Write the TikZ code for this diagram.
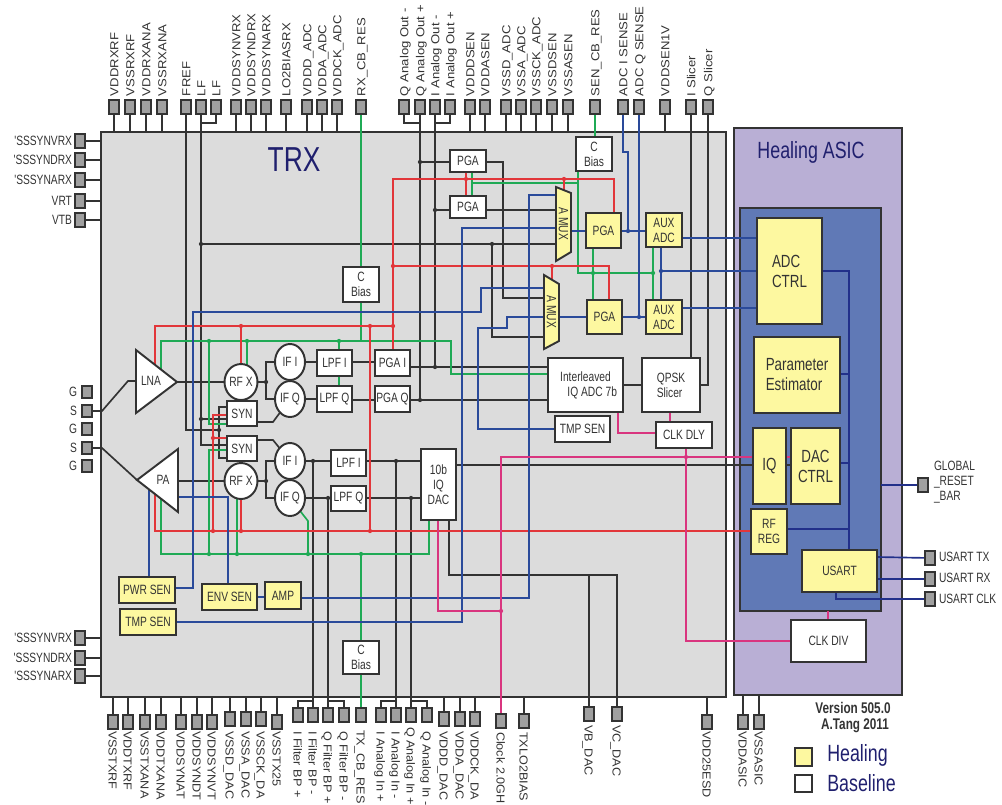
\documentclass[tikz,border=0pt]{standalone}
\usepackage{fontspec}
\usetikzlibrary{shapes.geometric}
\newfontfamily\hf[FakeStretch=0.76]{Liberation Sans}
\newfontfamily\vf[FakeStretch=1.13]{Liberation Sans}
\newfontfamily\vfb[FakeStretch=1.09]{Liberation Sans}
\definecolor{ink}{HTML}{333333}
\definecolor{wred}{HTML}{E2363A}
\definecolor{wgreen}{HTML}{1FAA55}
\definecolor{wblue}{HTML}{2A4A9A}
\definecolor{wnavy}{HTML}{22308A}
\definecolor{wpink}{HTML}{D9357F}
\definecolor{hyellow}{HTML}{FDF8A0}
\definecolor{trxgray}{HTML}{DCDCDC}
\definecolor{pingray}{HTML}{A0A0A0}
\definecolor{asicbg}{HTML}{B9AFD5}
\definecolor{corebg}{HTML}{6079B6}
\definecolor{titleblue}{HTML}{20206E}
\pgfdeclarelayer{back}
\pgfdeclarelayer{wires}
\pgfsetlayers{back,wires,main}
\tikzset{
  txt/.style={font=\hf\fontsize{10.1pt}{11.3pt}\selectfont,text=ink},
  bigtxt/.style={font=\hf\fontsize{13.2pt}{15pt}\selectfont,text=ink},
  box/.style={draw=ink,line width=1.45pt,fill=white,inner sep=0pt,outer sep=0pt,align=center,txt},
  heal/.style={box,fill=hyellow},
  rnd/.style={draw=ink,line width=1.45pt,fill=white,ellipse,inner sep=0pt,outer sep=0pt,minimum width=22.5pt,minimum height=27pt,txt},
  pin/.style={draw=ink,line width=1.45pt,fill=pingray,inner sep=0pt,outer sep=0pt,minimum width=7.5pt,minimum height=10.5pt},
  vlab/.style={font=\vf\fontsize{8.7pt}{10pt}\selectfont,text=ink,inner sep=0pt,outer sep=0pt,text height=6.4pt,text depth=0pt,anchor=west},
  vlabb/.style={font=\vfb\fontsize{8.7pt}{10pt}\selectfont,text=ink,inner sep=0pt,outer sep=0pt,text height=6.4pt,text depth=0pt,anchor=west},
  hlab/.style={txt,inner sep=0pt,outer sep=0pt},
  jd/.style={circle,inner sep=0pt,outer sep=0pt,minimum size=3.2pt},
  wk/.style={draw=ink,line width=1.25pt},
  wr/.style={draw=wred,line width=1.25pt},
  wg/.style={draw=wgreen,line width=1.25pt},
  wb/.style={draw=wblue,line width=1.25pt},
  wn/.style={draw=wnavy,line width=1.25pt},
  wp/.style={draw=wpink,line width=1.25pt},
}
% [style]{name}{x1}{y1}{x2}{y2}{text}
\newcommand{\bx}[7][box]{\node[#1,minimum width={(#5-#3)*0.75pt},minimum height={(#6-#4)*0.75pt}] (#2) at ({(#3+#5)/2},{(#4+#6)/2}) {#7};}
\newcommand{\dotk}[3]{\node[jd,fill=ink] (#1) at (#2,#3) {};}
\newcommand{\dotr}[3]{\node[jd,fill=wred] (#1) at (#2,#3) {};}
\newcommand{\dotg}[3]{\node[jd,fill=wgreen] (#1) at (#2,#3) {};}
\newcommand{\dotb}[3]{\node[jd,fill=wblue] (#1) at (#2,#3) {};}
\newcommand{\dotp}[3]{\node[jd,fill=wpink] (#1) at (#2,#3) {};}
\newcommand{\pinT}[3]{\node[pin] (#1) at (#2,107) {}; \node[vlab,rotate=90] (#1t) at (#2,96) {#3};}
\newcommand{\pinTs}[3]{\pinT{#1}{#2}{#3}\begin{pgfonlayer}{wires}\draw[wk] (#1) -- (#1|-trx.north);\end{pgfonlayer}}
\newcommand{\pinB}[5]{\node[pin] (#1) at (#2,#3) {}; \node[vlabb,rotate=-90] (#1t) at (#2,#4) {#5};}
\newcommand{\pinBs}[5]{\pinB{#1}{#2}{#3}{#4}{#5}\begin{pgfonlayer}{wires}\draw[wk] (#1) -- (#1|-trx.south);\end{pgfonlayer}}
\newcommand{\pinL}[3]{\node[pin] (#1) at (80,#2) {}; \node[hlab,anchor=east] (#1t) at (72,#2) {#3};\begin{pgfonlayer}{wires}\draw[wk] (#1) -- (#1-|trx.west);\end{pgfonlayer}}
\begin{document}
\begin{tikzpicture}[x=0.75pt,y=-0.75pt]
\useasboundingbox (0,0) rectangle (1002,804);
% panels
\begin{pgfonlayer}{back}
\bx[box,fill=trxgray]{trx}{101}{132}{726}{697}{}
\bx[box,fill=asicbg]{asic}{734}{128}{902}{695}{}
\bx[box,fill=corebg]{core}{740}{208}{881}{611}{}
\end{pgfonlayer}
\node[font=\hf\fontsize{26pt}{28pt}\selectfont,text=titleblue,inner sep=0pt] (trxtitle) at (294,160) {TRX};
\node[font=\hf\fontsize{17.6pt}{20pt}\selectfont,text=titleblue,inner sep=0pt] (asictitle) at (811,152) {Healing ASIC};
% top pins
\pinTs{pVDDRXRF}{114}{VDDRXRF}
\pinTs{pVSSRXRF}{130}{VSSRXRF}
\pinTs{pVDDRXANA}{146}{VDDRXANA}
\pinTs{pVSSRXANA}{162}{VSSRXANA}
\pinT{pFREF}{186}{FREF}
\pinT{pLFa}{201}{LF}
\pinT{pLFb}{216}{LF}
\pinTs{pVDDSYNVRX}{236}{VDDSYNVRX}
\pinTs{pVDDSYNDRX}{251}{VDDSYNDRX}
\pinTs{pVDDSYNARX}{266}{VDDSYNARX}
\pinTs{pLOBIASRX}{286}{LO2BIASRX}
\pinTs{pVDDDADC}{307}{VDDD\_ADC}
\pinTs{pVDDAADC}{322}{VDDA\_ADC}
\pinTs{pVDDCKADC}{337}{VDDCK\_ADC}
\pinT{pRXCB}{361}{RX\_CB\_RES}
\pinT{pQOm}{404}{Q Analog Out -}
\pinT{pQOp}{420}{Q Analog Out +}
\pinT{pIOm}{435}{I Analog Out -}
\pinT{pIOp}{450}{I Analog Out +}
\pinTs{pVDDDSEN}{470}{VDDDSEN}
\pinTs{pVDDASEN}{485}{VDDASEN}
\pinTs{pVSSDADC}{506}{VSSD\_ADC}
\pinTs{pVSSAADC}{521}{VSSA\_ADC}
\pinTs{pVSSCKADC}{536}{VSSCK\_ADC}
\pinTs{pVSSDSEN}{552}{VSSDSEN}
\pinTs{pVSSASEN}{568}{VSSASEN}
\pinT{pSENCB}{595}{SEN\_CB\_RES}
\pinT{pADCI}{623}{ADC I SENSE}
\pinT{pADCQ}{639}{ADC Q SENSE}
\pinTs{pVDDSENV}{665}{VDDSEN1V}
\pinT{pISL}{691}{I Slicer}
\pinT{pQSL}{708}{Q Slicer}
% left pins
\pinL{pLa}{141}{'SSSYNVRX}
\pinL{pLb}{160}{'SSSYNDRX}
\pinL{pLc}{180}{'SSSYNARX}
\pinL{pLd}{201}{VRT}
\pinL{pLe}{220}{VTB}
\pinL{pLf}{638}{'SSSYNVRX}
\pinL{pLg}{658}{'SSSYNDRX}
\pinL{pLh}{676}{'SSSYNARX}
\node[pin,minimum width=8pt,minimum height=9pt] (pGa) at (87,392) {}; \node[hlab,anchor=east] (pGat) at (77,392) {G};
\node[pin,minimum width=8pt,minimum height=9pt] (pSa) at (87,411) {}; \node[hlab,anchor=east] (pSat) at (77,411) {S};
\node[pin,minimum width=8pt,minimum height=9pt] (pGb) at (87,429) {}; \node[hlab,anchor=east] (pGbt) at (77,429) {G};
\node[pin,minimum width=8pt,minimum height=9pt] (pSb) at (87,448) {}; \node[hlab,anchor=east] (pSbt) at (77,448) {S};
\node[pin,minimum width=8pt,minimum height=9pt] (pGc) at (87,466) {}; \node[hlab,anchor=east] (pGct) at (77,466) {G};
% bottom pins
\pinBs{pVSSTXRF}{113}{722}{731}{VSSTXRF}
\pinBs{pVDDTXRF}{128}{722}{731}{VDDTXRF}
\pinBs{pVSSTXANA}{145}{722}{731}{VSSTXANA}
\pinBs{pVDDTXANA}{161}{722}{731}{VDDTXANA}
\pinBs{pVDDSYNAT}{181}{722}{731}{VDDSYNAT}
\pinBs{pVDDSYNDT}{197}{722}{731}{VDDSYNDT}
\pinBs{pVDDSYNVT}{212}{722}{731}{VDDSYNVT}
\pinBs{pVSSDDAC}{230}{719}{731}{VSSD\_DAC}
\pinBs{pVSSADAC}{246}{719}{731}{VSSA\_DAC}
\pinBs{pVSSCKDAC}{261}{719}{731}{VSSCK\_DA}
\pinBs{pVSSTXQ}{277}{722}{731}{VSSTX25}
\pinB{pFIp}{298}{715}{731}{I Filter BP +}
\pinB{pFIm}{313}{715}{731}{I Filter BP -}
\pinB{pFQp}{328}{715}{731}{Q Filter BP +}
\pinB{pFQm}{344}{715}{731}{Q Filter BP -}
\pinB{pTXCB}{361}{715}{730}{TX\_CB\_RES}
\pinB{pAIp}{381}{715}{731}{I Analog In +}
\pinB{pAIm}{396}{715}{731}{I Analog In -}
\pinB{pAQp}{411}{715}{727}{Q Analog In +}
\pinB{pAQm}{427}{715}{731}{Q Analog In -}
\pinBs{pVDDDDAC}{444}{719}{731}{VDDD\_DAC}
\pinBs{pVDDADAC}{460}{719}{731}{VDDA\_DAC}
\pinBs{pVDDCKDAC}{475}{719}{731}{VDDCK\_DA}
\pinB{pCLK}{501}{721}{732}{Clock 2.0GH}
\pinBs{pTXLO}{524}{721}{732}{TXLO2BIAS}
\pinB{pVB}{589}{714}{725}{VB\_DAC}
\pinB{pVC}{617}{714}{725}{VC\_DAC}
\pinBs{pVDDESD}{707}{722}{731}{VDD25ESD}
% RF triangles
\coordinate (lnaA) at (136,350); \coordinate (lnaB) at (136,413); \coordinate (lnaTip) at (177,382);
\coordinate (paTip) at (137,480); \coordinate (paA) at (178,449); \coordinate (paB) at (178,512);
\draw[line width=1.45pt,draw=ink,fill=white,line join=miter] (lnaA) -- (lnaTip) -- (lnaB) -- cycle;
\draw[line width=1.45pt,draw=ink,fill=white,line join=miter] (paTip) -- (paA) -- (paB) -- cycle;
\node[hlab] (lna) at (151,381) {LNA};
\node[hlab] (pa) at (163,480) {PA};
% circles
\node[rnd] (rfxa) at (241,382) {RF X};
\node[rnd] (rfxb) at (241,481) {RF X};
\node[rnd] (ifia) at (290,362) {IF I};
\node[rnd] (ifqa) at (290,399) {IF Q};
\node[rnd] (ifib) at (290,461) {IF I};
\node[rnd] (ifqb) at (290,498) {IF Q};
% TRX boxes
\bx{syna}{227}{401}{257}{426}{SYN}
\bx{synb}{227}{436}{257}{461}{SYN}
\bx{lpfia}{317}{350}{352}{376}{LPF I}
\bx{lpfqa}{317}{386}{352}{412}{LPF Q}
\bx{pgai}{375}{350}{410}{376}{PGA I}
\bx{pgaq}{375}{386}{410}{412}{PGA Q}
\bx{lpfib}{331}{450}{366}{476}{LPF I}
\bx{lpfqb}{331}{486}{366}{511}{LPF Q}
\bx{dac}{421}{449}{456}{520}{10b\\IQ\\DAC}
\bx{adc}{548}{358}{623}{412}{Interleaved\\\hspace*{1em}IQ ADC 7b}
\bx[box,align=left]{qpsk}{642}{358}{700}{412}{QPSK\\Slicer}
\bx{tmpw}{555}{416}{610}{442}{TMP SEN}
\bx{clkdly}{656}{422}{712}{448}{CLK DLY}
\bx{pgawa}{450}{150}{486}{172}{PGA}
\bx{pgawb}{450}{196}{486}{218}{PGA}
\bx{cbr}{576}{137}{612}{171}{C\\Bias}
\bx{cbl}{343}{267}{379}{302}{C\\Bias}
\bx{cbb}{343}{641}{379}{674}{C\\Bias}
\bx[heal]{pgaya}{586}{213}{621}{248}{PGA}
\bx[heal]{auxa}{646}{213}{682}{247}{AUX\\ADC}
\bx[heal]{pgayb}{587}{300}{622}{334}{PGA}
\bx[heal]{auxb}{646}{300}{682}{334}{AUX\\ADC}
\bx[heal]{pwr}{119}{577}{175}{603}{PWR SEN}
\bx[heal]{tmpy}{120}{609}{176}{635}{TMP SEN}
\bx[heal]{env}{202}{584}{257}{610}{ENV SEN}
\bx[heal]{amp}{265}{582}{301}{609}{AMP}
% A MUX
\draw[line width=1.45pt,draw=ink,fill=hyellow] (556,187) -- (571,193) -- (571,252) -- (556,261) -- cycle;
\draw[line width=1.45pt,draw=ink,fill=hyellow] (544,275) -- (559,284) -- (559,341) -- (544,349) -- cycle;
\node[minimum width=11.25pt,minimum height=55pt,inner sep=0pt,outer sep=0pt,txt] (amuxa) at (563.5,224) {\rotatebox{-90}{A MUX}};
\node[minimum width=11.25pt,minimum height=55pt,inner sep=0pt,outer sep=0pt,txt] (amuxb) at (551.5,312) {\rotatebox{-90}{A MUX}};
% ASIC boxes
\bx[heal,bigtxt,align=left]{adcctrl}{757}{218}{822}{324}{ADC\\CTRL}
\bx[heal,bigtxt,align=left]{param}{754}{337}{840}{413}{Parameter\\Estimator}
\bx[heal,bigtxt]{iq}{753}{428}{786}{504}{IQ}
\bx[heal,bigtxt]{dacctrl}{791}{428}{840}{504}{DAC\\CTRL}
\bx[heal]{rfreg}{751}{509}{787}{554}{RF\\REG}
\bx[heal]{usart}{802}{550}{877}{592}{USART}
\bx{clkdiv}{791}{620}{866}{662}{CLK DIV}
% right pins
\node[pin] (pRST) at (923,485) {};
\node[hlab,anchor=west,align=left] (pRSTt) at (934,482) {GLOBAL\\\_RESET\\\_BAR};
\node[pin] (pUTX) at (930,558) {}; \node[hlab,anchor=west] (pUTXt) at (939,557) {USART TX};
\node[pin] (pURX) at (930,579) {}; \node[hlab,anchor=west] (pURXt) at (939,578) {USART RX};
\node[pin] (pUCK) at (930,599) {}; \node[hlab,anchor=west] (pUCKt) at (939,599) {USART CLK};
\pinB{pVDDASIC}{743}{722}{731}{VDDASIC}
\pinB{pVSSASIC}{759}{722}{731}{VSSASIC}
% note & legend
\node[font=\hf\bfseries\fontsize{11.6pt}{13pt}\selectfont,text=ink,inner sep=0pt] (ver) at (853,708) {Version 505.0};
\node[font=\hf\bfseries\fontsize{11.6pt}{13pt}\selectfont,text=ink,inner sep=0pt] (auth) at (855,726) {A.Tang 2011};
\bx[heal]{legh}{795}{748}{812}{766}{}
\bx{legb}{795}{775}{812}{792}{}
\node[font=\hf\fontsize{17.6pt}{20pt}\selectfont,text=titleblue,inner sep=0pt,anchor=west] (leght) at (827,755) {Healing};
\node[font=\hf\fontsize{17.6pt}{20pt}\selectfont,text=titleblue,inner sep=0pt,anchor=west] (legbt) at (827,783) {Baseline};
% junctions
\dotk{dSyn}{219}{430}\dotk{dLFa}{201}{244}\dotk{dLFb}{201}{419}\dotk{dMux}{492}{244}
\dotk{dPQ}{420}{400}\dotk{dPI}{435}{367}\dotk{dQa}{420}{162}\dotk{dIa}{435}{210}
\dotk{dRa}{266}{382}\dotk{dRb}{266}{481}\dotk{dFi}{313}{461}\dotk{dFq}{328}{498}
\dotk{dAi}{396}{461}\dotk{dAq}{411}{498}
\dotg{dGa}{209}{341}\dotg{dGb}{247}{341}\dotg{dGc}{339}{341}
\dotg{dGd}{209}{554}\dotg{dGe}{237}{554}\dotg{dGf}{308}{554}\dotg{dGg}{361}{554}
\dotg{dGh}{593}{273}\dotg{dGi}{653}{273}
\dotr{dRe}{466}{179}\dotr{dRf}{564}{179}\dotr{dRg}{393}{266}\dotr{dRh}{552}{266}
\dotr{dRi}{393}{326}\dotr{dRj}{241}{326}\dotr{dRk}{370}{326}\dotr{dRl}{370}{531}
\dotr{dRm}{241}{531}\dotr{dRn}{213}{531}\dotr{dRo}{213}{438}
\dotb{dBa}{628}{231}\dotb{dBb}{639}{317}\dotb{dBc}{661}{271}
\dotp{dPa}{686}{457}\dotp{dPb}{501}{611}
% connectors
\begin{pgfonlayer}{wires}
% black
\draw[wk] (pFREF) -- (pFREF|-dSyn) -- (dSyn);
\draw[wk] (syna.west|-0,407) -- (219,407) -- (219,458) -- (synb.west|-0,458);
\draw[wk] (pLFa) -- (201,445) -- (synb.west|-0,445);
\draw[wk] (pLFb) |- (201,123);
\draw[wk] (dLFb) -- (syna.west|-0,419);
\draw[wk] (dLFa) -- (amuxa.west|-0,244);
\draw[wk] (dMux) |- (amuxb.west|-0,337);
\draw[wk] (pgawa.east|-0,162) -- (503,162) |- (amuxb.west|-0,298);
\draw[wk] (pgawb.east|-0,210) -- (amuxa.west|-0,210);
\draw[wk] (pQOp) -- (dPQ);
\draw[wk] (pQOm) |- (420,123);
\draw[wk] (pIOm) -- (dPI);
\draw[wk] (pIOp) |- (435,123);
\draw[wk] (dQa) -- (pgawa.west|-0,162);
\draw[wk] (dIa) -- (pgawb.west|-0,210);
\draw[wk] (pgai.east|-0,367) -- (adc.west|-0,367);
\draw[wk] (pgaq.east|-0,400) -- (adc.west|-0,400);
\draw[wk] (adc.east|-0,385) -- (qpsk.west|-0,385);
\draw[wk] (pISL) -- (pISL|-qpsk.north);
\draw[wk] (pQSL) |- (qpsk.east|-0,385);
\draw[wk] (lnaTip) -- (rfxa);
\draw[wk] (rfxa) -- (dRa);
\draw[wk] (ifia) -- (266,362) -- (266,399) -- (ifqa);
\draw[wk] (syna.east|-0,422) -- (273,422) -- (ifqa);
\draw[wk] (synb.east|-0,440) -- (273,440) -- (ifib);
\draw[wk] (ifia) -- (lpfia.west|-0,362);
\draw[wk] (ifqa) -- (lpfqa.west|-0,399);
\draw[wk] (lpfia.east|-0,362) -- (pgai.west|-0,362);
\draw[wk] (lpfqa.east|-0,400) -- (pgaq.west|-0,400);
\draw[wk] (rfxb) -- (178,481);
\draw[wk] (rfxb) -- (dRb);
\draw[wk] (ifib) -- (266,461) -- (266,498) -- (ifqb);
\draw[wk] (ifib) -- (lpfib.west|-0,461);
\draw[wk] (dFi) -- (pFIm);
\draw[wk] (pFIp) |- (pFIm|-0,701);
\draw[wk] (ifqb) -- (lpfqb.west|-0,498);
\draw[wk] (dFq) -- (pFQp);
\draw[wk] (pFQm) |- (pFQp|-0,701);
\draw[wk] (lpfib.east|-0,461) -- (dac.west|-0,461);
\draw[wk] (dAi) -- (pAIm);
\draw[wk] (pAIp) |- (pAIm|-0,701);
\draw[wk] (lpfqb.east|-0,498) -- (dac.west|-0,498);
\draw[wk] (dAq) -- (pAQp);
\draw[wk] (pAQm) |- (pAQp|-0,701);
\draw[wk] (dac.east|-0,465) -- (iq.west|-0,465);
\draw[wk] (iq.east|-0,465) -- (dacctrl.west|-0,465);
\draw[wk] (449,0|-dac.south) |- (pVC|-0,575) -- (pVC);
\draw[wk] (pVB) -- (pVB|-0,575);
\draw[wk] (pSa) -- (102,411) -- (128,381) -- (lnaA|-0,381);
\draw[wk] (pSb) -- (102,448) -- (paTip);
% green
\draw[wg] (pRXCB) -- (pRXCB|-cbl.north);
\draw[wg] (cbl.south) -- (361,341);
\draw[wg] (161,369) -- (161,341) -- (451,341) -- (451,374) -- (adc.west|-0,374);
\draw[wg] (dGa) -- (209,424) -- (syna.west|-0,424);
\draw[wg] (dGb) -- (dGb|-rfxa);
\draw[wg] (dGc) -- (dGc|-lpfia.north);
\draw[wg] (dGc|-lpfia.south) -- (dGc|-lpfqa.north);
\draw[wg] (161,498) -- (161,554) -- (429,554) -- (429,0|-dac.south);
\draw[wg] (dGd) -- (209,450) -- (synb.west|-0,450);
\draw[wg] (dGe) -- (dGe|-rfxb);
\draw[wg] (dGf) -- (308,521) -- (ifqb);
\draw[wg] (dGg) -- (cbb.north);
\draw[wg] (cbb.south) -- (pTXCB);
\draw[wg] (pSENCB) -- (pSENCB|-cbr.north);
\draw[wg] (578,0|-cbr.south) -- (578,273) -- (dGi);
\draw[wg] (472,183) -- (578,183);
\draw[wg] (472,0|-pgawa.south) -- (472,0|-pgawb.north);
\draw[wg] (593,0|-pgaya.south) -- (593,0|-pgayb.north);
\draw[wg] (653,0|-auxa.south) -- (653,0|-auxb.north);
% red
\draw[wr] (393,0|-pgai.north) -- (393,179) -- (614,179) -- (614,0|-pgaya.north);
\draw[wr] (466,0|-pgawa.south) -- (466,0|-pgawb.north);
\draw[wr] (dRf) -- (564,224);
\draw[wr] (dRg) -- (609,266) -- (609,0|-pgayb.north);
\draw[wr] (dRh) -- (552,312);
\draw[wr] (dRi) -- (155,326) -- (155,364);
\draw[wr] (dRj) -- (rfxa);
\draw[wr] (dRk) -- (dRl);
\draw[wr] (155,493) -- (155,531) -- (rfreg.west|-0,531);
\draw[wr] (dRm) -- (rfxb);
\draw[wr] (dRn) -- (213,415) -- (syna.west|-0,415);
\draw[wr] (dRo) -- (synb.west|-0,438);
% blue
\draw[wb] (pADCI) -- (623,152) -- (628,152) -- (dBa);
\draw[wb] (amuxa.east|-0,231) -- (pgaya.west|-0,231);
\draw[wb] (pgaya.east|-0,231) -- (auxa.west|-0,231);
\draw[wb] (pADCQ) -- (dBb);
\draw[wb] (amuxb.east|-0,317) -- (pgayb.west|-0,317);
\draw[wb] (pgayb.east|-0,317) -- (auxb.west|-0,317);
\draw[wb] (auxa.east|-0,238) -- (adcctrl.west|-0,238);
\draw[wb] (auxb.east|-0,308) -- (adcctrl.west|-0,308);
\draw[wb] (dBc) -- (adcctrl.west|-0,271);
\draw[wb] (661,0|-auxa.south) -- (661,0|-auxb.north);
\draw[wb] (amp.east|-0,598) -- (529,598) |- (amuxa.west|-0,195);
\draw[wb] (tmpy.east|-0,622) -- (462,622) |- (amuxa.west|-0,228);
\draw[wb] (pwr.east|-0,588) -- (193,588) -- (193,312) -- (481,312) -- (481,288) -- (amuxb.west|-0,288);
\draw[wb] (amuxb.west|-0,317) -- (507,317) -- (507,328) -- (478,328) |- (tmpw.west|-0,429);
\draw[wb] (149,489) -- (149,0|-pwr.north);
\draw[wb] (178,497) -- (228,497) -- (228,0|-env.north);
\draw[wb] (env.east|-0,597) -- (amp.west|-0,597);
% navy
\draw[wn] (adcctrl.east|-0,271) -- (849,271) -- (849,0|-usart.north);
\draw[wn] (param.east|-0,374) -- (849,374);
\draw[wn] (dacctrl.east|-0,463) -- (849,463);
\draw[wn] (rfreg.east|-0,529) -- (849,529);
\draw[wn] (core.east|-0,485) -- (pRST);
\draw[wn] (usart.east|-0,557) -- (pUTX);
\draw[wn] (usart.east|-0,579) -- (pURX);
\draw[wn] (836,0|-usart.south) |- (pUCK);
% ASIC supply
\draw[wk] (pVDDASIC) -- (pVDDASIC|-asic.south);
\draw[wk] (pVSSASIC) -- (pVSSASIC|-asic.south);
% pink
\draw[wp] (618,0|-adc.south) |- (clkdly.west|-0,433);
\draw[wp] (670,0|-qpsk.south) -- (670,0|-clkdly.north);
\draw[wp] (686,0|-clkdly.south) |- (clkdiv.west|-0,641);
\draw[wp] (pCLK) -- (501,457) -- (iq.west|-0,457);
\draw[wp] (iq.east|-0,457) -- (dacctrl.west|-0,457);
\draw[wp] (dPb) -- (438,611) -- (438,0|-dac.south);
\draw[wp] (828,0|-clkdiv.north) -- (828,0|-core.south);
\end{pgfonlayer}
\end{tikzpicture}
\end{document}
